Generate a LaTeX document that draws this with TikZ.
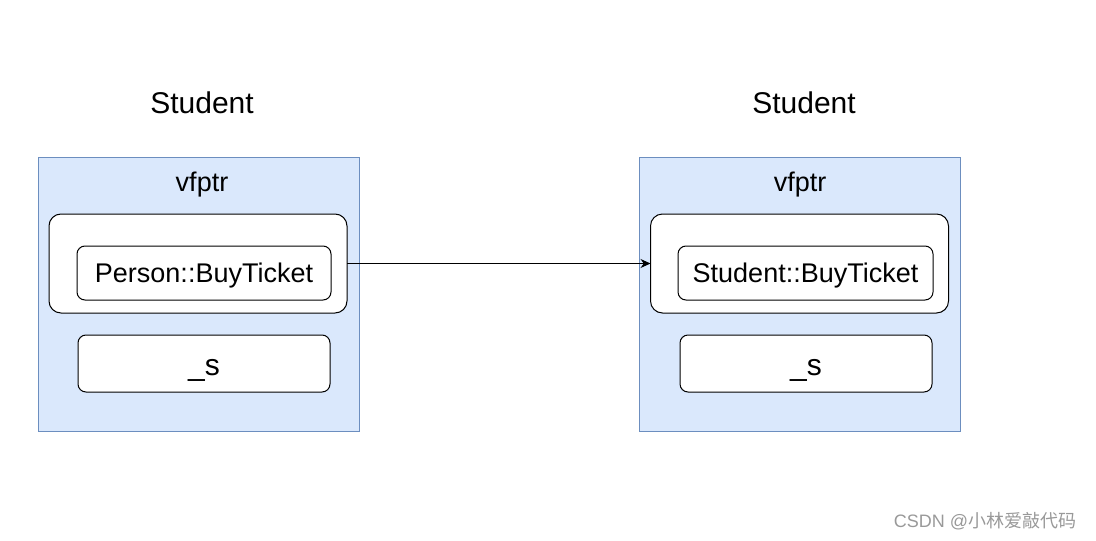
\documentclass[tikz,border=0pt]{standalone}
\usepackage{fontspec}
\setmainfont{Liberation Sans}
\newfontfamily\cjkfont{Noto Sans CJK SC}
\usetikzlibrary{arrows.meta}
\definecolor{boxfill}{HTML}{DAE8FC}
\definecolor{boxline}{HTML}{6C8EBF}
\begin{document}
\begin{tikzpicture}[x = 0.5pt, y = -0.5pt,
		every node/.style	= {outer sep=0pt, inner sep=0pt, line width=0.5pt},
		objbox/.style		= {draw=boxline, fill=boxfill, minimum width=160.5pt, minimum height=137pt},
		tablebox/.style		= {draw, fill=white, rounded corners=6pt, minimum width=149pt, minimum height=49.5pt},
		slotbox/.style		= {draw, fill=white, rounded corners=4pt, text height=9.7pt, text depth=0pt, font=\fontsize{13.5}{16}\selectfont},
		memslot/.style		= {slotbox, minimum width=126pt, minimum height=28.5pt, text height=11.5pt, font=\fontsize{15}{18}\selectfont},
		title/.style		= {font=\fontsize{15}{18}\selectfont},
		label/.style		= {text depth=0pt, font=\fontsize{13.5}{16}\selectfont}]
				% Cadre
				\useasboundingbox	(0,0)	rectangle	(1096,540)	;
				% Objet gauche
				\node [objbox]		(objL)		at (198.5, 294)		{};
				\node [title]		(nameL)		at (202, 102.5)		{Student};
				\node [label]		(ptrL)		at (202, 182)		{vfptr};
				\node [tablebox]	(tabL)		at (198, 263.5)		{};
				\node [slotbox, minimum width=127pt, minimum height=27pt]	(funL)	at (204, 273)	{Person::BuyTicket};
				\node [memslot]		(memL)		at (204, 363.5)		{\_s};
				% Objet droit
				\node [objbox]		(objR)		at (799.5, 294)		{};
				\node [title]		(nameR)		at (804, 102.5)		{Student};
				\node [label]		(ptrR)		at (800, 182)		{vfptr};
				\node [tablebox]	(tabR)		at (799.5, 263.5)	{};
				\node [slotbox, minimum width=127.5pt, minimum height=27pt]	(funR)	at (805.5, 273)	{Student::BuyTicket};
				\node [memslot]		(memR)		at (806, 363.5)		{\_s};
				% Fleche
				\draw [-{Stealth[length=5pt, width=4.5pt]}, line width=0.5pt]	(tabL.east)	-- (tabR.west);
				% Filigrane
				\node [text=black!40, font=\fontsize{9}{11}\selectfont]	(mark)	at (985, 521)	{CSDN @{\cjkfont 小林爱敲代码}};
			\end{tikzpicture}
\end{document}
